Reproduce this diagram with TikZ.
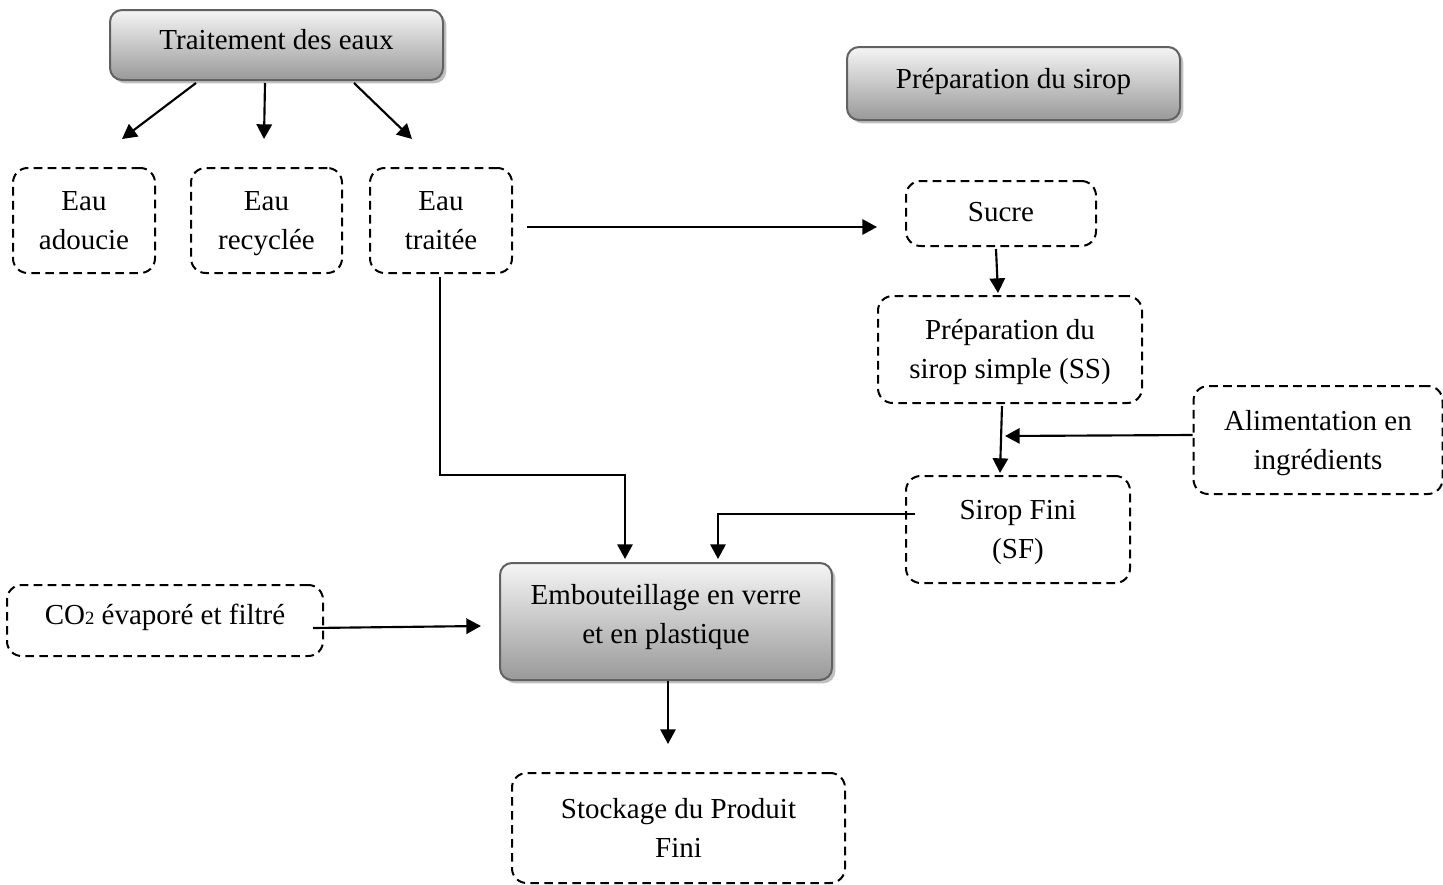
\documentclass[tikz,border=0pt]{standalone}
\usepackage{fontspec}
\setmainfont{Liberation Serif}
\usetikzlibrary{arrows.meta,calc,shadows}
\begin{document}
\begin{tikzpicture}[x=0.75pt,y=-0.75pt,
  % text with fixed struts: #1 = strut height, #2 = strut depth (they set the vertical placement)
  txt/.style 2 args={font=\fontsize{21.75}{29.25}\selectfont, align=center, inner sep=0pt,
    execute at begin node={\rule[-#2]{0pt}{\dimexpr#1+#2\relax}},
    execute at end node={\rule[-#2]{0pt}{\dimexpr#1+#2\relax}}},
  stage/.style={txt={18.25pt}{11pt}, draw=black!62, line width=1.5pt, rounded corners=9pt,
    top color=black!4, bottom color=black!40,
    drop shadow={shadow xshift=2.5pt, shadow yshift=-2.5pt, fill=black!45, opacity=0.55}},
  dline/.style={draw=black, line width=1.5pt, rounded corners=11pt, dash pattern=on 6.5pt off 4pt},
  dbox/.style={txt={52pt}{8pt}, dline},
  dsingle/.style={txt={#1}{\dimexpr29.25pt-#1\relax}, dline},
  arr/.style={line width=1.6pt, -{Triangle[length=11pt,width=11.5pt]}}]
\useasboundingbox (0,0) rectangle (1443,885);

% process stages (shaded boxes)
\node[stage, minimum width=249.75pt, minimum height=52.5pt] (trait) at (276.5,45) {Traitement des eaux};
\node[stage, minimum width=249.75pt, minimum height=54.75pt] (prep) at (1013.5,83.5) {Préparation du sirop};
\node[stage, minimum width=249pt, minimum height=87.75pt] (emb) at (666,621.5) {Embouteillage en verre\\et en plastique};

% flows (dashed boxes)
\node[dbox, minimum width=106.5pt, minimum height=78.75pt] (eaua) at (84,220.5) {Eau\\adoucie};
\node[dbox, minimum width=113.25pt, minimum height=78.75pt] (eaur) at (266.5,220.5) {Eau\\recyclée};
\node[dbox, minimum width=106.5pt, minimum height=78.75pt] (eaut) at (441,220.5) {Eau\\traitée};
\node[dsingle=20.45pt, minimum width=142.5pt, minimum height=48.75pt] (sucre) at (1001,213.5) {Sucre};
\node[dbox, minimum width=198pt, minimum height=80.25pt] (ss) at (1010,349.5) {Préparation du\\sirop simple (SS)};
\node[dbox, minimum width=186.75pt, minimum height=81pt] (alim) at (1318,440) {Alimentation en\\ingrédients};
\node[dbox, minimum width=168pt, minimum height=80.25pt] (sf) at (1018,529.5) {Sirop Fini\\(SF)};
\node[dsingle=17.45pt, minimum width=237pt, minimum height=53.25pt] (co2) at (165,620.5) {CO{\fontsize{14}{14}\selectfont 2} évaporé et filtré};
\node[dbox, minimum width=249.75pt, minimum height=82.5pt] (stock) at (678.5,828) {Stockage du Produit\\Fini};

% water treatment outputs
\draw[arr] ($(trait.south west)+(87,2)$) -- ($(eaua.north)+(38,-28)$);
\draw[arr] ($(trait.south west)+(156,2)$) -- ($(eaur.north)+(-2.5,-28)$);
\draw[arr] ($(trait.south west)+(245,2)$) -- ($(eaut.north)+(-29,-28)$);

% treated water to syrup and to bottling
\draw[arr] ($(eaut.east)+(14,6.5)$) -- ($(sucre.west)+(-28,13.5)$);
\draw[arr] ($(eaut.south)+(-1,3)$) |- ($(emb.north)+(-41,-87)$) -- ($(emb.north)+(-41,-3)$);

% syrup line
\draw[arr] ($(sucre.south)+(-5,2)$) -- ($(ss.north)+(-12,-2)$);
\draw[arr] ($(ss.south)+(-8,2)$) -- ($(sf.north)+(-18,-2)$);
\draw[arr] ($(alim.west)+(0,-5)$) -- ($(ss.south)+(-5,32)$);
\draw[arr] ($(sf.west)+(10,-15.5)$) -| ($(emb.north)+(52,-3)$);

% CO2 to bottling, bottling to storage
\draw[arr] ($(co2.east)+(-11,7.5)$) -- ($(emb.west)+(-18,4.5)$);
\draw[arr] ($(emb.south)+(2,0)$) -- ($(stock.north)+(-10.5,-28)$);
\end{tikzpicture}
\end{document}
